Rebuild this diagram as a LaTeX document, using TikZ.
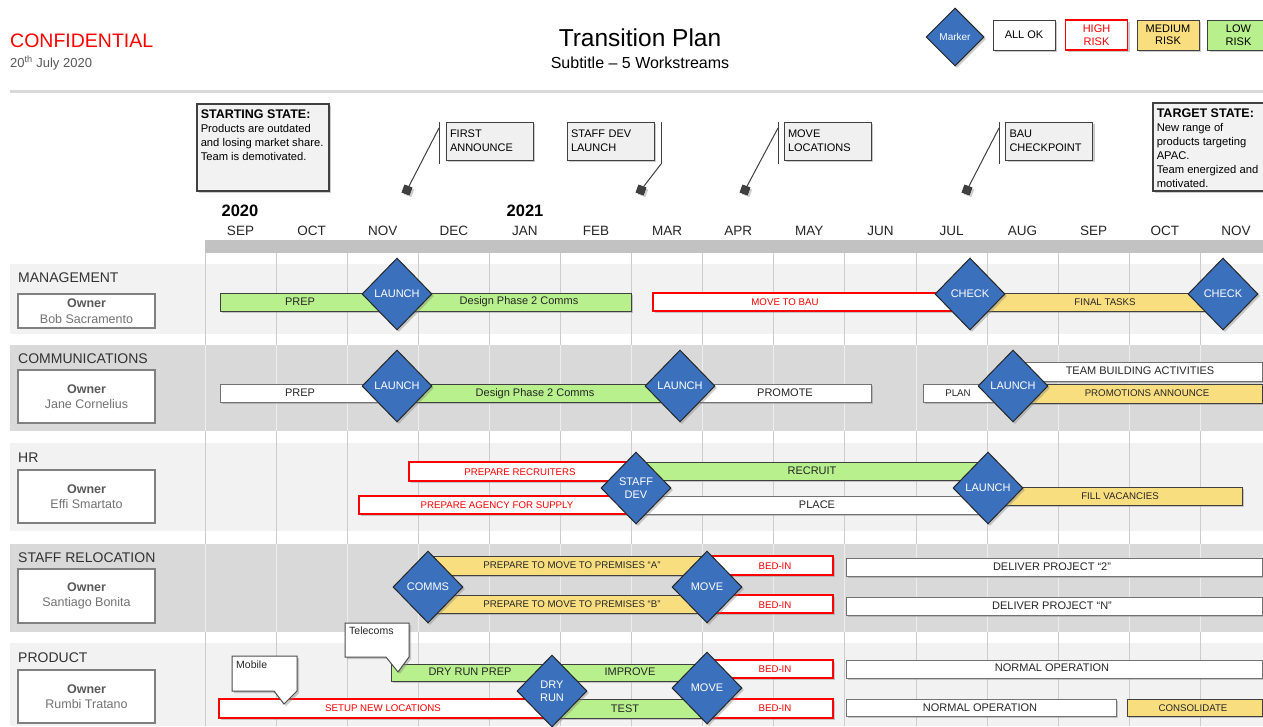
\documentclass[tikz,border=0pt]{standalone}
\usepackage{fontspec}
\setmainfont{Liberation Sans}
\usetikzlibrary{shapes.geometric,shadows}

\definecolor{markerblue}{RGB}{59,112,189}
\definecolor{lowgreen}{RGB}{183,240,140}
\definecolor{medyellow}{RGB}{249,222,128}
\definecolor{highred}{RGB}{255,0,0}
\definecolor{rowlight}{RGB}{242,242,242}
\definecolor{rowdark}{RGB}{217,217,217}

\begin{document}
\begin{tikzpicture}[x=1pt,y=-1pt]
    \tikzstyle{softshadow}=[drop shadow={shadow xshift=2pt,shadow yshift=-2pt,opacity=.4}]
    \tikzstyle{okbar}=[draw=black!55,fill=white,line width=1,softshadow]
    \tikzstyle{riskbar}=[draw=highred,fill=white,line width=1.6,softshadow]
    \tikzstyle{medbar}=[draw=black!75,fill=medyellow,line width=1,softshadow]
    \tikzstyle{lowbar}=[draw=black!75,fill=lowgreen,line width=1,softshadow]
    \tikzstyle{bartxt}=[inner sep=0,text=black!85,font=\fontsize{11}{13}\selectfont]
    \tikzstyle{narrowtxt}=[bartxt,font=\fontsize{9.7}{11}\selectfont]
    \tikzstyle{risktxt}=[narrowtxt,text=highred]
    \tikzstyle{milestone}=[diamond,draw=black!85,line width=1,fill=markerblue,text=white,
                           minimum width=70,minimum height=72,inner sep=0,align=center,
                           font=\fontsize{11}{13}\selectfont,softshadow]
    \tikzstyle{gridline}=[draw=black!20,line width=1]
    \tikzstyle{lanetitle}=[anchor=west,inner sep=0,text=black!80,font=\fontsize{14}{16}\selectfont]
    \tikzstyle{ownerbox}=[draw=black!50,fill=white,line width=1.2,minimum width=137,align=center,
                          text=black!55,font=\fontsize{12.5}{15.5}\selectfont]
    \tikzstyle{monthtxt}=[inner sep=0,text=black!85,font=\fontsize{13.5}{15}\selectfont]
    \tikzstyle{yeartxt}=[inner sep=0,text=black,font=\bfseries\fontsize{16.5}{18}\selectfont]
    \tikzstyle{statebox}=[draw=black!75,fill=black!5,line width=1.5,inner xsep=4,inner ysep=6.5,
                          anchor=north west,font=\fontsize{11.2}{13.9}\selectfont,softshadow]
    \tikzstyle{notebox}=[draw=black!75,fill=black!6,line width=1,minimum width=87,minimum height=38,
                         text width=79,align=left,inner sep=4,font=\fontsize{11}{14}\selectfont,softshadow]
    \tikzstyle{pinmark}=[draw=black!85,fill=black!75,minimum size=8,inner sep=0,rotate=-20,softshadow]
    \tikzstyle{leadline}=[draw=black!75,line width=1]
    \tikzstyle{legbox}=[draw=black!75,line width=1,minimum width=62,minimum height=30,inner sep=0,
                        align=center,font=\fontsize{11}{12.5}\selectfont,softshadow]
    \tikzstyle{bubble}=[draw=black!70,fill=white,line width=1,softshadow]
    \tikzstyle{bubbletxt}=[anchor=north west,inner sep=0,text=black!85,font=\fontsize{10.5}{12}\selectfont]

    \useasboundingbox (0,0) rectangle (1263,726);
    \fill[white] (0,0) rectangle (1263,726);

    % header
    \node[anchor=west,inner sep=0,text=highred,font=\fontsize{19.5}{22}\selectfont] (conf) at (10,41) {CONFIDENTIAL};
    \node[anchor=west,inner sep=0,text=black!65,font=\fontsize{13}{15}\selectfont] (date) at (10,63) {20\textsuperscript{th} July 2020};
    \node[inner sep=0,font=\fontsize{24.5}{28}\selectfont] (title) at (640,38) {Transition Plan};
    \node[inner sep=0,font=\fontsize{16}{18}\selectfont] (subtitle) at (640,63) {Subtitle – 5 Workstreams};

    % legend
    \node[milestone,minimum width=58,minimum height=58,font=\fontsize{10}{12}\selectfont] (legMarker) at (955,37) {Marker};
    \node[legbox,fill=white] (legOk) at (1024,35) {ALL OK};
    \node[legbox,fill=white,draw=highred,line width=1.6,text=highred] (legHigh) at (1096.5,35) {HIGH\\RISK};
    \node[legbox,fill=medyellow] (legMed) at (1168,35) {MEDIUM\\RISK};
    \node[legbox,fill=lowgreen] (legLow) at (1238.5,35) {LOW\\RISK};

    \draw[black!15,line width=3] (10,91) -- (1263,91);

    % states and key dates
    \node[statebox] (startState) at (196,103) {\parbox[c][74pt][t]{124pt}{{\bfseries\fontsize{12.5}{14}\selectfont STARTING STATE:}\\Products are outdated\\and losing market share.\\Team is demotivated.}};
    \node[statebox] (targetState) at (1152,102) {\parbox[c][75pt][t]{124pt}{{\bfseries\fontsize{12.5}{14}\selectfont TARGET STATE:}\\New range of\\products targeting\\APAC.\\Team energized and\\motivated.}};

    \node[notebox] (firstNote) at (489.5,141) {FIRST\\ANNOUNCE};
    \node[notebox] (staffNote) at (610.5,141) {STAFF DEV\\LAUNCH};
    \node[notebox] (moveNote) at (827.5,141) {MOVE\\LOCATIONS};
    \node[notebox] (bauNote) at (1049,141) {BAU\\CHECKPOINT};

    \draw[leadline] (439,122) -- (439,164);
    \draw[leadline] (661,122) -- (661,164);
    \draw[leadline] (778,122) -- (778,164);
    \draw[leadline] (999,122) -- (999,164);
    \coordinate (firstLead) at (439,128);
    \coordinate (staffLead) at (661,164);
    \coordinate (moveLead) at (778,128);
    \coordinate (bauLead) at (999,128);
    \node[pinmark] (firstPin) at (407,190) {};
    \node[pinmark] (staffPin) at (641,190) {};
    \node[pinmark] (movePin) at (745,190) {};
    \node[pinmark] (bauPin) at (967,190) {};
    \draw[leadline] (firstLead) -- (firstPin);
    \draw[leadline] (staffLead) -- (staffPin);
    \draw[leadline] (moveLead) -- (movePin);
    \draw[leadline] (bauLead) -- (bauPin);

    % timeline
    \node[yeartxt] (year2020) at (240,211) {2020};
    \node[yeartxt] (year2021) at (525,211) {2021};
    \foreach \mon [count=\k from 0] in {SEP,OCT,NOV,DEC,JAN,FEB,MAR,APR,MAY,JUN,JUL,AUG,SEP,OCT,NOV}
      \node[monthtxt] (month\k) at ({240.5+71.1*\k},231) {\mon};
    \fill[black!24] (205,240) rectangle (1263,253);

    % swimlanes
    \fill[rowlight] (10,264) rectangle (1263,334);
    \fill[rowdark] (10,345) rectangle (1263,431);
    \fill[rowlight] (10,443) rectangle (1263,531);
    \fill[rowdark] (10,544) rectangle (1263,632);
    \fill[rowlight] (10,643) rectangle (1263,726);
    \foreach \k in {0,...,14} {
      \draw[gridline] ({205+71.1*\k},253) -- ({205+71.1*\k},726);
      \draw[gridline,draw=black!7] ({205+71.1*\k},345) -- ({205+71.1*\k},431);
      \draw[gridline,draw=black!7] ({205+71.1*\k},544) -- ({205+71.1*\k},632);
    }

    \node[lanetitle] (laneMgmt) at (18,278) {MANAGEMENT};
    \node[lanetitle] (laneComms) at (18,359) {COMMUNICATIONS};
    \node[lanetitle] (laneHr) at (18,458) {HR};
    \node[lanetitle] (laneReloc) at (18,558) {STAFF RELOCATION};
    \node[lanetitle] (laneProduct) at (18,658) {PRODUCT};

    \node[ownerbox,minimum height=34] (ownMgmt) at (86.5,311) {{\bfseries\color{black!65}Owner}\\Bob Sacramento};
    \node[ownerbox,minimum height=53] (ownComms) at (86.5,396.5) {{\bfseries\color{black!65}Owner}\\Jane Cornelius};
    \node[ownerbox,minimum height=53] (ownHr) at (86.5,496.5) {{\bfseries\color{black!65}Owner}\\Effi Smartato};
    \node[ownerbox,minimum height=54] (ownReloc) at (86.5,596) {{\bfseries\color{black!65}Owner}\\Santiago Bonita};
    \node[ownerbox,minimum height=53] (ownProduct) at (86.5,696.5) {{\bfseries\color{black!65}Owner}\\Rumbi Tratano};

    % management
    \draw[lowbar] (220,293) rectangle (397,311);
    \node[bartxt] (mgPrep) at (300,302) {PREP};
    \draw[lowbar] (397,293) rectangle (631,311);
    \node[bartxt] (mgDesign) at (519,302) {Design Phase 2 Comms};
    \draw[riskbar] (653,293) rectangle (968,311);
    \node[risktxt] (mgBau) at (785,302) {MOVE TO BAU};
    \draw[medbar] (970,293) rectangle (1223,311);
    \node[narrowtxt] (mgFinal) at (1105,302) {FINAL TASKS};

    % communications
    \draw[okbar] (220,384) rectangle (397,402);
    \node[bartxt] (cmPrep) at (300,393) {PREP};
    \draw[lowbar] (397,384) rectangle (680,402);
    \node[bartxt] (cmDesign) at (535,394) {Design Phase 2 Comms};
    \draw[okbar] (680,384) rectangle (871,402);
    \node[bartxt] (cmPromote) at (785,393) {PROMOTE};
    \draw[okbar] (923,384) rectangle (1013,402);
    \node[narrowtxt] (cmPlan) at (958,393) {PLAN};
    \draw[okbar] (1013,362) rectangle (1262,381);
    \node[bartxt] (cmTeam) at (1140,371) {TEAM BUILDING ACTIVITIES};
    \draw[medbar] (1013,384) rectangle (1262,403);
    \node[narrowtxt] (cmPromo) at (1147,393) {PROMOTIONS ANNOUNCE};

    % hr
    \draw[riskbar] (409,462) rectangle (636,481);
    \node[risktxt] (hrRecruiters) at (520,472) {PREPARE RECRUITERS};
    \draw[riskbar] (359,496) rectangle (636,514);
    \node[risktxt] (hrAgency) at (497,505) {PREPARE AGENCY FOR SUPPLY};
    \draw[lowbar] (636,462) rectangle (988,480);
    \node[bartxt] (hrRecruit) at (812,471) {RECRUIT};
    \draw[okbar] (636,496) rectangle (988,514);
    \node[bartxt] (hrPlace) at (817,505) {PLACE};
    \draw[medbar] (988,487) rectangle (1242,505);
    \node[narrowtxt] (hrFill) at (1120,496) {FILL VACANCIES};

    % staff relocation
    \draw[medbar] (428,556) rectangle (707,575);
    \node[narrowtxt] (srPremA) at (572,565) {PREPARE TO MOVE TO PREMISES “A”};
    \draw[medbar] (428,595) rectangle (707,613);
    \node[narrowtxt] (srPremB) at (572,604) {PREPARE TO MOVE TO PREMISES “B”};
    \draw[riskbar] (707,556) rectangle (833,575);
    \node[risktxt] (srBedA) at (775,566) {BED-IN};
    \draw[riskbar] (707,595) rectangle (833,613);
    \node[risktxt] (srBedB) at (775,605) {BED-IN};
    \draw[okbar] (846,558) rectangle (1262,576);
    \node[bartxt] (srDeliverTwo) at (1052,567) {DELIVER PROJECT “2”};
    \draw[okbar] (846,597) rectangle (1262,615);
    \node[bartxt] (srDeliverN) at (1052,606) {DELIVER PROJECT “N”};

    % product
    \draw[lowbar] (391,664) rectangle (552,681);
    \node[bartxt] (prDryPrep) at (470,672) {DRY RUN PREP};
    \draw[lowbar] (552,664) rectangle (707,681);
    \node[bartxt] (prImprove) at (630,672) {IMPROVE};
    \draw[riskbar] (219,699) rectangle (552,718);
    \node[risktxt] (prSetup) at (383,708) {SETUP NEW LOCATIONS};
    \draw[lowbar] (552,699) rectangle (707,718);
    \node[bartxt] (prTest) at (625,709) {TEST};
    \draw[riskbar] (707,660) rectangle (833,678);
    \node[risktxt] (prBedA) at (775,669) {BED-IN};
    \draw[riskbar] (707,699) rectangle (833,718);
    \node[risktxt] (prBedB) at (775,708) {BED-IN};
    \draw[okbar] (846,660) rectangle (1262,678);
    \node[bartxt] (prNormalA) at (1052,668) {NORMAL OPERATION};
    \draw[okbar] (846,699) rectangle (1116,716);
    \node[bartxt] (prNormalB) at (980,708) {NORMAL OPERATION};
    \draw[medbar] (1127,699) rectangle (1262,716);
    \node[narrowtxt] (prConsol) at (1193,708) {CONSOLIDATE};

    \draw[bubble] (345,623) -- (409,623) -- (409,657) -- (398,672) -- (386,657) -- (345,657) -- cycle;
    \node[bubbletxt] (telecoms) at (349,627) {Telecoms};
    \draw[bubble] (232,656) -- (297,656) -- (297,691) -- (284,704) -- (274,691) -- (232,691) -- cycle;
    \node[bubbletxt] (mobile) at (236,661) {Mobile};

    % milestones
    \node[milestone] (mgLaunch) at (397,294) {LAUNCH};
    \node[milestone] (mgCheck) at (970,294) {CHECK};
    \node[milestone] (mgCheckEnd) at (1223,294) {CHECK};
    \node[milestone] (cmLaunch) at (397,386) {LAUNCH};
    \node[milestone] (cmLaunchMid) at (680,386) {LAUNCH};
    \node[milestone] (cmLaunchEnd) at (1013,386) {LAUNCH};
    \node[milestone] (hrStaffDev) at (636,488) {STAFF\\DEV};
    \node[milestone] (hrLaunch) at (988,488) {LAUNCH};
    \node[milestone] (srComms) at (428,587) {COMMS};
    \node[milestone] (srMove) at (707,587) {MOVE};
    \node[milestone] (prDryRun) at (552,691) {DRY\\RUN};
    \node[milestone] (prMove) at (707,688) {MOVE};
\end{tikzpicture}
\end{document}
